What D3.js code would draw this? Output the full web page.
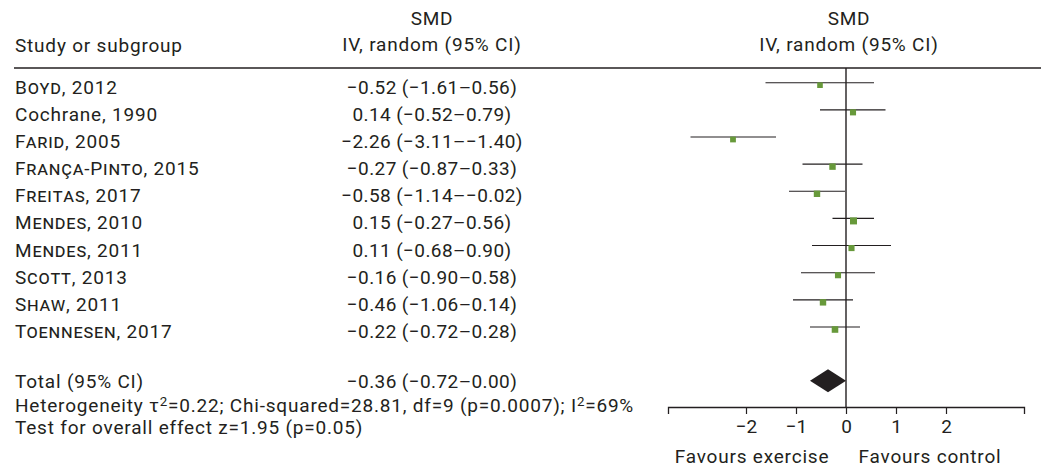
<!DOCTYPE html>
<html>
<head>
<meta charset="utf-8">
<script src="https://cdn.jsdelivr.net/npm/d3@7"></script>
<style>
  html, body { margin: 0; padding: 0; background: #ffffff; }
  svg { display: block; }
  text { font-family: Roboto, "Noto Sans", sans-serif; fill: #231f20; letter-spacing: 0.8px; }
</style>
</head>
<body>
<svg id="chart" width="1041" height="468"></svg>
<script>
// ---------- data ----------
const studyNames  = ["Boyd", "Cochrane", "Farid", "França-Pinto", "Freitas", "Mendes", "Mendes", "Scott", "Shaw", "Toennesen"];
const studyYears  = ["2012", "1990", "2005", "2015", "2017", "2010", "2011", "2013", "2011", "2017"];
const smallCaps   = [true, false, true, true, true, true, true, true, true, true];
const smd         = [-0.52, 0.14, -2.26, -0.27, -0.58, 0.15, 0.11, -0.16, -0.46, -0.22];
const ciLow       = [-1.61, -0.52, -3.11, -0.87, -1.14, -0.27, -0.68, -0.90, -1.06, -0.72];
const ciHigh      = [0.56, 0.79, -1.40, 0.33, -0.02, 0.56, 0.90, 0.58, 0.14, 0.28];
const weights     = [8.0, 9.5, 8.5, 10.5, 10.5, 12.5, 9.5, 9.5, 10.5, 11.0]; // estimated from square sizes
const totalSmd    = -0.36;
const totalLow    = -0.72;
const totalHigh   = 0.00;
const xTicks      = [-2, -1, 0, 1, 2];
const headerSMD   = "SMD";
const headerIV    = "IV, random (95% CI)";
const headerStudy = "Study or subgroup";
const totalLabel  = "Total (95% CI)";
const favourLeft  = "Favours exercise";
const favourRight = "Favours control";

// ---------- helpers ----------
const fmt = v => (v < 0 ? "\u2212" : "") + Math.abs(v).toFixed(2);
const ciText = (m, l, h) => `${fmt(m)} (${fmt(l)}\u2013${fmt(h)})`;

const svg = d3.select("#chart");
const FS = 19;
const ink = "#231f20";
const green = "#67993a";

// scales
const x = d3.scaleLinear().domain([-3.56, 3.56]).range([668, 1024]);
const y = d3.scaleLinear().domain([0, 9]).range([82.7, 327]);
const rowStep = y(1) - y(0);
const yTotal = y(0) + rowStep * 10.98;
const size = d3.scaleSqrt().domain([0, 12.5]).range([0, 7]);

const colStudyX = 15;
const colValX = 432;
const colPlotX = 849;

// ---------- header ----------
svg.append("text").attr("x", colValX).attr("y", 25).attr("text-anchor", "middle").attr("font-size", FS).text(headerSMD);
svg.append("text").attr("x", colValX).attr("y", 51).attr("text-anchor", "middle").attr("font-size", FS).text(headerIV);
svg.append("text").attr("x", colPlotX).attr("y", 25).attr("text-anchor", "middle").attr("font-size", FS).text(headerSMD);
svg.append("text").attr("x", colPlotX).attr("y", 51).attr("text-anchor", "middle").attr("font-size", FS).text(headerIV);
svg.append("text").attr("x", colStudyX).attr("y", 52).attr("font-size", FS).text(headerStudy);

svg.append("line").attr("x1", 14).attr("x2", 1041).attr("y1", 68).attr("y2", 68)
  .attr("stroke", ink).attr("stroke-width", 1.3);

// ---------- study rows ----------
const idx = d3.range(studyNames.length);
const rows = svg.append("g").selectAll("g").data(idx).join("g");

rows.append("text")
  .attr("x", colStudyX).attr("y", i => y(i) + 11).attr("font-size", FS)
  .each(function(i) {
    const t = d3.select(this);
    t.append("tspan").style("font-variant", smallCaps[i] ? "small-caps" : "normal").text(studyNames[i]);
    t.append("tspan").text(", " + studyYears[i]);
  });

rows.append("text")
  .attr("x", colValX).attr("y", i => y(i) + 11).attr("font-size", FS).attr("text-anchor", "middle")
  .style("letter-spacing", "0.4px")
  .text(i => ciText(smd[i], ciLow[i], ciHigh[i]));

// zero line
svg.append("line").attr("x1", x(0)).attr("x2", x(0)).attr("y1", 68).attr("y2", 407)
  .attr("stroke", ink).attr("stroke-width", 1.4);

rows.append("line")
  .attr("x1", i => x(ciLow[i])).attr("x2", i => x(ciHigh[i]))
  .attr("y1", i => y(i)).attr("y2", i => y(i))
  .attr("stroke", ink).attr("stroke-width", 1.1);

rows.append("rect")
  .attr("x", i => x(smd[i]) - size(weights[i]) / 2)
  .attr("y", i => y(i) + 2.5 - size(weights[i]) / 2)
  .attr("width", i => size(weights[i]))
  .attr("height", i => size(weights[i]))
  .attr("fill", green);

// ---------- total ----------
svg.append("text").attr("x", colStudyX).attr("y", yTotal + 7).attr("font-size", FS).text(totalLabel);
svg.append("text").attr("x", colValX).attr("y", yTotal + 7).attr("font-size", FS).attr("text-anchor", "middle")
  .style("letter-spacing", "0.4px")
  .text(ciText(totalSmd, totalLow, totalHigh));

const dh = 11.5;
svg.append("path")
  .attr("d", `M${x(totalLow)},${yTotal} L${x(totalSmd)},${yTotal - dh} L${x(totalHigh)},${yTotal} L${x(totalSmd)},${yTotal + dh} Z`)
  .attr("fill", ink);

// heterogeneity
const het = svg.append("text").attr("x", colStudyX).attr("y", yTotal + 31).attr("font-size", FS);
het.append("tspan").text("Heterogeneity \u03c4");
het.append("tspan").attr("font-size", FS * 0.7).attr("dy", -6).text("2");
het.append("tspan").attr("dy", 6).text("=0.22; Chi-squared=28.81, df=9 (p=0.0007); I");
het.append("tspan").attr("font-size", FS * 0.7).attr("dy", -6).text("2");
het.append("tspan").attr("dy", 6).text("=69%");

svg.append("text").attr("x", colStudyX).attr("y", yTotal + 53).attr("font-size", FS)
  .text("Test for overall effect z=1.95 (p=0.05)");

// ---------- axis ----------
const axisY = 407;
const axis = svg.append("g").attr("transform", `translate(0,${axisY})`)
  .call(d3.axisBottom(x).tickValues(xTicks).tickSize(7).tickPadding(6)
    .tickFormat(d => (d < 0 ? "\u2212" : "") + Math.abs(d)));
axis.select(".domain").attr("stroke", ink).attr("stroke-width", 1.3);
axis.selectAll(".tick line").attr("stroke", ink).attr("stroke-width", 1.2);
axis.selectAll(".tick text").attr("font-size", FS).attr("font-family", "Roboto, sans-serif").attr("fill", ink)
  .style("letter-spacing", "0px");

svg.append("text").attr("x", 752).attr("y", 463).attr("text-anchor", "middle").attr("font-size", FS).text(favourLeft);
svg.append("text").attr("x", 930).attr("y", 463).attr("text-anchor", "middle").attr("font-size", FS).text(favourRight);
</script>
</body>
</html>
